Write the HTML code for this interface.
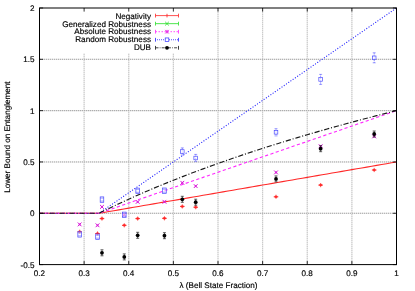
<!DOCTYPE html>
<html><head><meta charset="utf-8"><title>chart</title><style>html,body{margin:0;padding:0;background:#fff}text{stroke:#000;stroke-width:0.16px}</style></head><body>
<svg width="415" height="291" viewBox="0 0 415 291" style="display:block;font-family:'Liberation Sans',sans-serif;font-size:8.12px;fill:#000;text-rendering:geometricPrecision;will-change:transform">
<rect width="415" height="291" fill="#fff"/>
<line x1="84.12" y1="8.0" x2="84.12" y2="264.6" stroke="#e6e6e6" stroke-width="1.2"/>
<line x1="84.12" y1="8.0" x2="84.12" y2="264.6" stroke="#c0c0c0" stroke-width="0.8" stroke-dasharray="1 1"/>
<line x1="128.75" y1="8.0" x2="128.75" y2="264.6" stroke="#e6e6e6" stroke-width="1.2"/>
<line x1="128.75" y1="8.0" x2="128.75" y2="264.6" stroke="#c0c0c0" stroke-width="0.8" stroke-dasharray="1 1"/>
<line x1="173.37" y1="8.0" x2="173.37" y2="264.6" stroke="#e6e6e6" stroke-width="1.2"/>
<line x1="173.37" y1="8.0" x2="173.37" y2="264.6" stroke="#c0c0c0" stroke-width="0.8" stroke-dasharray="1 1"/>
<line x1="218.00" y1="8.0" x2="218.00" y2="264.6" stroke="#e6e6e6" stroke-width="1.2"/>
<line x1="218.00" y1="8.0" x2="218.00" y2="264.6" stroke="#c0c0c0" stroke-width="0.8" stroke-dasharray="1 1"/>
<line x1="262.62" y1="8.0" x2="262.62" y2="264.6" stroke="#e6e6e6" stroke-width="1.2"/>
<line x1="262.62" y1="8.0" x2="262.62" y2="264.6" stroke="#c0c0c0" stroke-width="0.8" stroke-dasharray="1 1"/>
<line x1="307.25" y1="8.0" x2="307.25" y2="264.6" stroke="#e6e6e6" stroke-width="1.2"/>
<line x1="307.25" y1="8.0" x2="307.25" y2="264.6" stroke="#c0c0c0" stroke-width="0.8" stroke-dasharray="1 1"/>
<line x1="351.88" y1="8.0" x2="351.88" y2="264.6" stroke="#e6e6e6" stroke-width="1.2"/>
<line x1="351.88" y1="8.0" x2="351.88" y2="264.6" stroke="#c0c0c0" stroke-width="0.8" stroke-dasharray="1 1"/>
<line x1="40" y1="213.28" x2="396.5" y2="213.28" stroke="#dedede" stroke-width="1.1"/>
<line x1="40" y1="213.28" x2="396.5" y2="213.28" stroke="#989898" stroke-width="0.8" stroke-dasharray="1 1"/>
<line x1="40" y1="161.96" x2="396.5" y2="161.96" stroke="#dedede" stroke-width="1.1"/>
<line x1="40" y1="161.96" x2="396.5" y2="161.96" stroke="#989898" stroke-width="0.8" stroke-dasharray="1 1"/>
<line x1="40" y1="110.64" x2="396.5" y2="110.64" stroke="#dedede" stroke-width="1.1"/>
<line x1="40" y1="110.64" x2="396.5" y2="110.64" stroke="#989898" stroke-width="0.8" stroke-dasharray="1 1"/>
<line x1="40" y1="59.32" x2="396.5" y2="59.32" stroke="#dedede" stroke-width="1.1"/>
<line x1="40" y1="59.32" x2="396.5" y2="59.32" stroke="#989898" stroke-width="0.8" stroke-dasharray="1 1"/>
<rect x="58" y="8.5" width="126" height="44.7" fill="#fff"/>
<polyline points="39.5,213.28 99.00,213.28 103.96,212.42 108.92,211.57 113.87,210.71 118.83,209.86 123.79,209.00 128.75,208.15 133.71,207.29 138.67,206.44 143.62,205.58 148.58,204.73 153.54,203.87 158.50,203.02 163.46,202.16 168.42,201.31 173.37,200.45 178.33,199.59 183.29,198.74 188.25,197.88 193.21,197.03 198.17,196.17 203.12,195.32 208.08,194.46 213.04,193.61 218.00,192.75 222.96,191.90 227.92,191.04 232.87,190.19 237.83,189.33 242.79,188.48 247.75,187.62 252.71,186.76 257.67,185.91 262.62,185.05 267.58,184.20 272.54,183.34 277.50,182.49 282.46,181.63 287.42,180.78 292.38,179.92 297.33,179.07 302.29,178.21 307.25,177.36 312.21,176.50 317.17,175.65 322.13,174.79 327.08,173.93 332.04,173.08 337.00,172.22 341.96,171.37 346.92,170.51 351.88,169.66 356.83,168.80 361.79,167.95 366.75,167.09 371.71,166.24 376.67,165.38 381.63,164.53 386.58,163.67 391.54,162.82 396.50,161.96" fill="none" stroke="#ff2828" stroke-width="1.1"/>
<polyline points="39.5,213.28 99.00,213.28 103.96,209.86 108.92,206.44 113.87,203.02 118.83,199.59 123.79,196.17 128.75,192.75 133.71,189.33 138.67,185.91 143.62,182.49 148.58,179.07 153.54,175.65 158.50,172.22 163.46,168.80 168.42,165.38 173.37,161.96 178.33,158.54 183.29,155.12 188.25,151.70 193.21,148.27 198.17,144.85 203.12,141.43 208.08,138.01 213.04,134.59 218.00,131.17 222.96,127.75 227.92,124.33 232.87,120.90 237.83,117.48 242.79,114.06 247.75,110.64 252.71,107.22 257.67,103.80 262.62,100.38 267.58,96.95 272.54,93.53 277.50,90.11 282.46,86.69 287.42,83.27 292.38,79.85 297.33,76.43 302.29,73.01 307.25,69.58 312.21,66.16 317.17,62.74 322.13,59.32 327.08,55.90 332.04,52.48 337.00,49.06 341.96,45.63 346.92,42.21 351.88,38.79 356.83,35.37 361.79,31.95 366.75,28.53 371.71,25.11 376.67,21.69 381.63,18.26 386.58,14.84 391.54,11.42 396.50,8.00" fill="none" stroke="#2a2aff" stroke-width="1.25" stroke-linecap="round" stroke-dasharray="0.01 2.7"/>
<polyline points="39.5,213.28 99.00,213.28 103.96,211.57 108.92,209.86 113.87,208.15 118.83,206.44 123.79,204.73 128.75,203.02 133.71,201.31 138.67,199.59 143.62,197.88 148.58,196.17 153.54,194.46 158.50,192.75 163.46,191.04 168.42,189.33 173.37,187.62 178.33,185.91 183.29,184.20 188.25,182.49 193.21,180.78 198.17,179.07 203.12,177.36 208.08,175.65 213.04,173.93 218.00,172.22 222.96,170.51 227.92,168.80 232.87,167.09 237.83,165.38 242.79,163.67 247.75,161.96 252.71,160.25 257.67,158.54 262.62,156.83 267.58,155.12 272.54,153.41 277.50,151.70 282.46,149.99 287.42,148.27 292.38,146.56 297.33,144.85 302.29,143.14 307.25,141.43 312.21,139.72 317.17,138.01 322.13,136.30 327.08,134.59 332.04,132.88 337.00,131.17 341.96,129.46 346.92,127.75 351.88,126.04 356.83,124.33 361.79,122.61 366.75,120.90 371.71,119.19 376.67,117.48 381.63,115.77 386.58,114.06 391.54,112.35 396.50,110.64" fill="none" stroke="#ff28ff" stroke-width="1.1" stroke-dasharray="3.2 2.4"/>
<polyline points="39.5,213.28 99.00,213.28 103.96,210.83 108.92,208.42 113.87,206.06 118.83,203.72 123.79,201.43 128.75,199.17 133.71,196.94 138.67,194.75 143.62,192.58 148.58,190.45 153.54,188.35 158.50,186.28 163.46,184.24 168.42,182.22 173.37,180.24 178.33,178.28 183.29,176.34 188.25,174.43 193.21,172.54 198.17,170.68 203.12,168.84 208.08,167.02 213.04,165.23 218.00,163.46 222.96,161.70 227.92,159.97 232.87,158.26 237.83,156.57 242.79,154.89 247.75,153.24 252.71,151.60 257.67,149.98 262.62,148.38 267.58,146.80 272.54,145.23 277.50,143.68 282.46,142.15 287.42,140.63 292.38,139.13 297.33,137.64 302.29,136.16 307.25,134.71 312.21,133.26 317.17,131.83 322.13,130.41 327.08,129.01 332.04,127.62 337.00,126.24 341.96,124.88 346.92,123.52 351.88,122.18 356.83,120.86 361.79,119.54 366.75,118.24 371.71,116.94 376.67,115.66 381.63,114.39 386.58,113.13 391.54,111.88 396.50,110.64" fill="none" stroke="#181818" stroke-width="1.15" stroke-dasharray="5.2 1.9 1 1.9"/>
<g stroke="#ff2020"><line x1="77.36" y1="231.80" x2="81.96" y2="231.80" stroke-width="0.9"/><line x1="79.66" y1="229.70" x2="79.66" y2="233.90" stroke-width="0.7"/><ellipse cx="79.66" cy="231.80" rx="1.6" ry="1.25" fill="#ff2020" stroke="none" opacity="0.8"/></g>
<g stroke="#d818d8" stroke-width="1"><line x1="77.76" y1="222.50" x2="81.56" y2="226.30"/><line x1="77.76" y1="226.30" x2="81.56" y2="222.50"/><circle cx="79.66" cy="224.40" r="1.1" fill="#d818d8" stroke="none" opacity="0.7"/></g>
<g stroke="#4040ff" stroke-width="0.65" fill="none"><rect x="77.86" y="231.70" width="3.6" height="5.4" fill="#fff" fill-opacity="0.5"/><line x1="77.86" y1="232.90" x2="81.46" y2="232.90" stroke-width="0.5"/><line x1="77.86" y1="235.90" x2="81.46" y2="235.90" stroke-width="0.5"/></g>
<g stroke="#ff2020"><line x1="95.21" y1="233.50" x2="99.81" y2="233.50" stroke-width="0.9"/><line x1="97.51" y1="231.40" x2="97.51" y2="235.60" stroke-width="0.7"/><ellipse cx="97.51" cy="233.50" rx="1.6" ry="1.25" fill="#ff2020" stroke="none" opacity="0.8"/></g>
<g stroke="#d818d8" stroke-width="1"><line x1="95.61" y1="223.40" x2="99.41" y2="227.20"/><line x1="95.61" y1="227.20" x2="99.41" y2="223.40"/><circle cx="97.51" cy="225.30" r="1.1" fill="#d818d8" stroke="none" opacity="0.7"/></g>
<g stroke="#4040ff" stroke-width="0.65" fill="none"><rect x="95.71" y="234.00" width="3.6" height="5.4" fill="#fff" fill-opacity="0.5"/><line x1="95.71" y1="235.20" x2="99.31" y2="235.20" stroke-width="0.5"/><line x1="95.71" y1="238.20" x2="99.31" y2="238.20" stroke-width="0.5"/></g>
<g stroke="#ff2020"><line x1="99.67" y1="218.60" x2="104.27" y2="218.60" stroke-width="0.9"/><line x1="101.97" y1="216.50" x2="101.97" y2="220.70" stroke-width="0.7"/><ellipse cx="101.97" cy="218.60" rx="1.6" ry="1.25" fill="#ff2020" stroke="none" opacity="0.8"/></g>
<g stroke="#d818d8" stroke-width="1"><line x1="100.07" y1="205.00" x2="103.88" y2="208.80"/><line x1="100.07" y1="208.80" x2="103.88" y2="205.00"/><circle cx="101.97" cy="206.90" r="1.1" fill="#d818d8" stroke="none" opacity="0.7"/></g>
<g stroke="#4040ff" stroke-width="0.65" fill="none"><rect x="100.17" y="196.90" width="3.6" height="5.4" fill="#fff" fill-opacity="0.5"/><line x1="100.17" y1="198.10" x2="103.77" y2="198.10" stroke-width="0.5"/><line x1="100.17" y1="201.10" x2="103.77" y2="201.10" stroke-width="0.5"/></g>
<g stroke="#202020" stroke-width="0.7"><line x1="101.97" y1="249.80" x2="101.97" y2="255.80"/><line x1="100.47" y1="249.80" x2="103.47" y2="249.80"/><line x1="100.47" y1="255.80" x2="103.47" y2="255.80"/><circle cx="101.97" cy="252.80" r="1.9" fill="#000" stroke="none"/></g>
<g stroke="#ff2020"><line x1="121.99" y1="225.30" x2="126.59" y2="225.30" stroke-width="0.9"/><line x1="124.29" y1="223.20" x2="124.29" y2="227.40" stroke-width="0.7"/><ellipse cx="124.29" cy="225.30" rx="1.6" ry="1.25" fill="#ff2020" stroke="none" opacity="0.8"/></g>
<g stroke="#d818d8" stroke-width="1"><line x1="122.39" y1="212.90" x2="126.19" y2="216.70"/><line x1="122.39" y1="216.70" x2="126.19" y2="212.90"/><circle cx="124.29" cy="214.80" r="1.1" fill="#d818d8" stroke="none" opacity="0.7"/></g>
<g stroke="#4040ff" stroke-width="0.65" fill="none"><rect x="122.49" y="212.10" width="3.6" height="5.4" fill="#fff" fill-opacity="0.5"/><line x1="122.49" y1="213.30" x2="126.09" y2="213.30" stroke-width="0.5"/><line x1="122.49" y1="216.30" x2="126.09" y2="216.30" stroke-width="0.5"/></g>
<g stroke="#202020" stroke-width="0.7"><line x1="124.29" y1="253.90" x2="124.29" y2="259.90"/><line x1="122.79" y1="253.90" x2="125.79" y2="253.90"/><line x1="122.79" y1="259.90" x2="125.79" y2="259.90"/><circle cx="124.29" cy="256.90" r="1.9" fill="#000" stroke="none"/></g>
<g stroke="#ff2020"><line x1="135.37" y1="218.60" x2="139.97" y2="218.60" stroke-width="0.9"/><line x1="137.67" y1="216.50" x2="137.67" y2="220.70" stroke-width="0.7"/><ellipse cx="137.67" cy="218.60" rx="1.6" ry="1.25" fill="#ff2020" stroke="none" opacity="0.8"/></g>
<g stroke="#d818d8" stroke-width="1"><line x1="135.77" y1="200.00" x2="139.57" y2="203.80"/><line x1="135.77" y1="203.80" x2="139.57" y2="200.00"/><circle cx="137.67" cy="201.90" r="1.1" fill="#d818d8" stroke="none" opacity="0.7"/></g>
<g stroke="#4040ff" stroke-width="0.65" fill="none"><rect x="135.87" y="188.10" width="3.6" height="5.4" fill="#fff" fill-opacity="0.5"/><line x1="135.87" y1="189.30" x2="139.47" y2="189.30" stroke-width="0.5"/><line x1="135.87" y1="192.30" x2="139.47" y2="192.30" stroke-width="0.5"/></g>
<g stroke="#202020" stroke-width="0.7"><line x1="137.67" y1="232.30" x2="137.67" y2="238.30"/><line x1="136.17" y1="232.30" x2="139.17" y2="232.30"/><line x1="136.17" y1="238.30" x2="139.17" y2="238.30"/><circle cx="137.67" cy="235.30" r="1.9" fill="#000" stroke="none"/></g>
<g stroke="#ff2020"><line x1="162.15" y1="218.30" x2="166.75" y2="218.30" stroke-width="0.9"/><line x1="164.45" y1="216.20" x2="164.45" y2="220.40" stroke-width="0.7"/><ellipse cx="164.45" cy="218.30" rx="1.6" ry="1.25" fill="#ff2020" stroke="none" opacity="0.8"/></g>
<g stroke="#d818d8" stroke-width="1"><line x1="162.55" y1="199.90" x2="166.35" y2="203.70"/><line x1="162.55" y1="203.70" x2="166.35" y2="199.90"/><circle cx="164.45" cy="201.80" r="1.1" fill="#d818d8" stroke="none" opacity="0.7"/></g>
<g stroke="#4040ff" stroke-width="0.65" fill="none"><rect x="162.65" y="188.00" width="3.6" height="5.4" fill="#fff" fill-opacity="0.5"/><line x1="162.65" y1="189.20" x2="166.25" y2="189.20" stroke-width="0.5"/><line x1="162.65" y1="192.20" x2="166.25" y2="192.20" stroke-width="0.5"/></g>
<g stroke="#202020" stroke-width="0.7"><line x1="164.45" y1="232.70" x2="164.45" y2="238.70"/><line x1="162.95" y1="232.70" x2="165.95" y2="232.70"/><line x1="162.95" y1="238.70" x2="165.95" y2="238.70"/><circle cx="164.45" cy="235.70" r="1.9" fill="#000" stroke="none"/></g>
<g stroke="#ff2020"><line x1="180.00" y1="206.40" x2="184.60" y2="206.40" stroke-width="0.9"/><line x1="182.30" y1="204.30" x2="182.30" y2="208.50" stroke-width="0.7"/><ellipse cx="182.30" cy="206.40" rx="1.6" ry="1.25" fill="#ff2020" stroke="none" opacity="0.8"/></g>
<g stroke="#d818d8" stroke-width="1"><line x1="180.40" y1="180.90" x2="184.20" y2="184.70"/><line x1="180.40" y1="184.70" x2="184.20" y2="180.90"/><circle cx="182.30" cy="182.80" r="1.1" fill="#d818d8" stroke="none" opacity="0.7"/></g>
<g stroke="#4040ff" stroke-width="0.65" fill="none"><line x1="182.30" y1="147.90" x2="182.30" y2="155.10" stroke-dasharray="1 0.8"/><line x1="180.80" y1="147.90" x2="183.80" y2="147.90" stroke-width="0.5"/><line x1="180.80" y1="155.10" x2="183.80" y2="155.10" stroke-width="0.5"/><rect x="180.50" y="149.70" width="3.6" height="3.6" fill="#fff" fill-opacity="0.6"/></g>
<g stroke="#202020" stroke-width="0.7"><line x1="182.30" y1="196.30" x2="182.30" y2="202.30"/><line x1="180.80" y1="196.30" x2="183.80" y2="196.30"/><line x1="180.80" y1="202.30" x2="183.80" y2="202.30"/><circle cx="182.30" cy="199.30" r="1.9" fill="#000" stroke="none"/></g>
<g stroke="#ff2020"><line x1="193.39" y1="207.20" x2="197.99" y2="207.20" stroke-width="0.9"/><line x1="195.69" y1="205.10" x2="195.69" y2="209.30" stroke-width="0.7"/><ellipse cx="195.69" cy="207.20" rx="1.6" ry="1.25" fill="#ff2020" stroke="none" opacity="0.8"/></g>
<g stroke="#d818d8" stroke-width="1"><line x1="193.79" y1="184.20" x2="197.59" y2="188.00"/><line x1="193.79" y1="188.00" x2="197.59" y2="184.20"/><circle cx="195.69" cy="186.10" r="1.1" fill="#d818d8" stroke="none" opacity="0.7"/></g>
<g stroke="#4040ff" stroke-width="0.65" fill="none"><line x1="195.69" y1="154.40" x2="195.69" y2="161.60" stroke-dasharray="1 0.8"/><line x1="194.19" y1="154.40" x2="197.19" y2="154.40" stroke-width="0.5"/><line x1="194.19" y1="161.60" x2="197.19" y2="161.60" stroke-width="0.5"/><rect x="193.89" y="156.20" width="3.6" height="3.6" fill="#fff" fill-opacity="0.6"/></g>
<g stroke="#202020" stroke-width="0.7"><line x1="195.69" y1="199.20" x2="195.69" y2="205.20"/><line x1="194.19" y1="199.20" x2="197.19" y2="199.20"/><line x1="194.19" y1="205.20" x2="197.19" y2="205.20"/><circle cx="195.69" cy="202.20" r="1.9" fill="#000" stroke="none"/></g>
<g stroke="#ff2020"><line x1="273.71" y1="196.80" x2="278.31" y2="196.80" stroke-width="0.9"/><line x1="276.01" y1="194.70" x2="276.01" y2="198.90" stroke-width="0.7"/><ellipse cx="276.01" cy="196.80" rx="1.6" ry="1.25" fill="#ff2020" stroke="none" opacity="0.8"/></g>
<g stroke="#d818d8" stroke-width="1"><line x1="274.11" y1="170.50" x2="277.91" y2="174.30"/><line x1="274.11" y1="174.30" x2="277.91" y2="170.50"/><circle cx="276.01" cy="172.40" r="1.1" fill="#d818d8" stroke="none" opacity="0.7"/></g>
<g stroke="#4040ff" stroke-width="0.65" fill="none"><line x1="276.01" y1="128.70" x2="276.01" y2="135.90" stroke-dasharray="1 0.8"/><line x1="274.51" y1="128.70" x2="277.51" y2="128.70" stroke-width="0.5"/><line x1="274.51" y1="135.90" x2="277.51" y2="135.90" stroke-width="0.5"/><rect x="274.21" y="130.50" width="3.6" height="3.6" fill="#fff" fill-opacity="0.6"/></g>
<g stroke="#202020" stroke-width="0.7"><line x1="276.01" y1="175.90" x2="276.01" y2="181.90"/><line x1="274.51" y1="175.90" x2="277.51" y2="175.90"/><line x1="274.51" y1="181.90" x2="277.51" y2="181.90"/><circle cx="276.01" cy="178.90" r="1.9" fill="#000" stroke="none"/></g>
<g stroke="#ff2020"><line x1="318.34" y1="185.10" x2="322.94" y2="185.10" stroke-width="0.9"/><line x1="320.64" y1="183.00" x2="320.64" y2="187.20" stroke-width="0.7"/><ellipse cx="320.64" cy="185.10" rx="1.6" ry="1.25" fill="#ff2020" stroke="none" opacity="0.8"/></g>
<g stroke="#d818d8" stroke-width="1"><line x1="318.74" y1="144.30" x2="322.54" y2="148.10"/><line x1="318.74" y1="148.10" x2="322.54" y2="144.30"/><circle cx="320.64" cy="146.20" r="1.1" fill="#d818d8" stroke="none" opacity="0.7"/></g>
<g stroke="#4040ff" stroke-width="0.65" fill="none"><line x1="320.64" y1="74.40" x2="320.64" y2="84.40" stroke-dasharray="1 0.8"/><line x1="319.14" y1="74.40" x2="322.14" y2="74.40" stroke-width="0.5"/><line x1="319.14" y1="84.40" x2="322.14" y2="84.40" stroke-width="0.5"/><rect x="318.84" y="77.60" width="3.6" height="3.6" fill="#fff" fill-opacity="0.6"/></g>
<g stroke="#202020" stroke-width="0.7"><line x1="320.64" y1="145.70" x2="320.64" y2="151.70"/><line x1="319.14" y1="145.70" x2="322.14" y2="145.70"/><line x1="319.14" y1="151.70" x2="322.14" y2="151.70"/><circle cx="320.64" cy="148.70" r="1.9" fill="#000" stroke="none"/></g>
<g stroke="#ff2020"><line x1="371.89" y1="170.00" x2="376.49" y2="170.00" stroke-width="0.9"/><line x1="374.19" y1="167.90" x2="374.19" y2="172.10" stroke-width="0.7"/><ellipse cx="374.19" cy="170.00" rx="1.6" ry="1.25" fill="#ff2020" stroke="none" opacity="0.8"/></g>
<g stroke="#d818d8" stroke-width="1"><line x1="372.29" y1="134.50" x2="376.09" y2="138.30"/><line x1="372.29" y1="138.30" x2="376.09" y2="134.50"/><circle cx="374.19" cy="136.40" r="1.1" fill="#d818d8" stroke="none" opacity="0.7"/></g>
<g stroke="#4040ff" stroke-width="0.65" fill="none"><line x1="374.19" y1="52.80" x2="374.19" y2="62.80" stroke-dasharray="1 0.8"/><line x1="372.69" y1="52.80" x2="375.69" y2="52.80" stroke-width="0.5"/><line x1="372.69" y1="62.80" x2="375.69" y2="62.80" stroke-width="0.5"/><rect x="372.39" y="56.00" width="3.6" height="3.6" fill="#fff" fill-opacity="0.6"/></g>
<g stroke="#202020" stroke-width="0.7"><line x1="374.19" y1="131.00" x2="374.19" y2="137.00"/><line x1="372.69" y1="131.00" x2="375.69" y2="131.00"/><line x1="372.69" y1="137.00" x2="375.69" y2="137.00"/><circle cx="374.19" cy="134.00" r="1.9" fill="#000" stroke="none"/></g>
<rect x="39.5" y="8.0" width="357.0" height="256.6" fill="none" stroke="#000" stroke-width="1"/>
<line x1="39.50" y1="264.6" x2="39.50" y2="261.0" stroke="#000" stroke-width="0.8"/>
<line x1="39.50" y1="8.0" x2="39.50" y2="11.6" stroke="#000" stroke-width="0.8"/>
<text transform="matrix(1,0,0.001,1,39.50,276.40000000000003)" text-anchor="middle">0.2</text>
<line x1="84.12" y1="264.6" x2="84.12" y2="261.0" stroke="#000" stroke-width="0.8"/>
<line x1="84.12" y1="8.0" x2="84.12" y2="11.6" stroke="#000" stroke-width="0.8"/>
<text transform="matrix(1,0,0.001,1,84.12,276.40000000000003)" text-anchor="middle">0.3</text>
<line x1="128.75" y1="264.6" x2="128.75" y2="261.0" stroke="#000" stroke-width="0.8"/>
<line x1="128.75" y1="8.0" x2="128.75" y2="11.6" stroke="#000" stroke-width="0.8"/>
<text transform="matrix(1,0,0.001,1,128.75,276.40000000000003)" text-anchor="middle">0.4</text>
<line x1="173.37" y1="264.6" x2="173.37" y2="261.0" stroke="#000" stroke-width="0.8"/>
<line x1="173.37" y1="8.0" x2="173.37" y2="11.6" stroke="#000" stroke-width="0.8"/>
<text transform="matrix(1,0,0.001,1,173.37,276.40000000000003)" text-anchor="middle">0.5</text>
<line x1="218.00" y1="264.6" x2="218.00" y2="261.0" stroke="#000" stroke-width="0.8"/>
<line x1="218.00" y1="8.0" x2="218.00" y2="11.6" stroke="#000" stroke-width="0.8"/>
<text transform="matrix(1,0,0.001,1,218.00,276.40000000000003)" text-anchor="middle">0.6</text>
<line x1="262.62" y1="264.6" x2="262.62" y2="261.0" stroke="#000" stroke-width="0.8"/>
<line x1="262.62" y1="8.0" x2="262.62" y2="11.6" stroke="#000" stroke-width="0.8"/>
<text transform="matrix(1,0,0.001,1,262.62,276.40000000000003)" text-anchor="middle">0.7</text>
<line x1="307.25" y1="264.6" x2="307.25" y2="261.0" stroke="#000" stroke-width="0.8"/>
<line x1="307.25" y1="8.0" x2="307.25" y2="11.6" stroke="#000" stroke-width="0.8"/>
<text transform="matrix(1,0,0.001,1,307.25,276.40000000000003)" text-anchor="middle">0.8</text>
<line x1="351.88" y1="264.6" x2="351.88" y2="261.0" stroke="#000" stroke-width="0.8"/>
<line x1="351.88" y1="8.0" x2="351.88" y2="11.6" stroke="#000" stroke-width="0.8"/>
<text transform="matrix(1,0,0.001,1,351.88,276.40000000000003)" text-anchor="middle">0.9</text>
<line x1="396.50" y1="264.6" x2="396.50" y2="261.0" stroke="#000" stroke-width="0.8"/>
<line x1="396.50" y1="8.0" x2="396.50" y2="11.6" stroke="#000" stroke-width="0.8"/>
<text transform="matrix(1,0,0.001,1,396.50,276.40000000000003)" text-anchor="middle">1</text>
<line x1="39.5" y1="264.60" x2="43.1" y2="264.60" stroke="#000" stroke-width="0.8"/>
<line x1="396.5" y1="264.60" x2="392.9" y2="264.60" stroke="#000" stroke-width="0.8"/>
<text transform="matrix(1,0,0.001,1,34.5,267.50)" text-anchor="end">-0.5</text>
<line x1="39.5" y1="213.28" x2="43.1" y2="213.28" stroke="#000" stroke-width="0.8"/>
<line x1="396.5" y1="213.28" x2="392.9" y2="213.28" stroke="#000" stroke-width="0.8"/>
<text transform="matrix(1,0,0.001,1,34.5,216.18)" text-anchor="end">0</text>
<line x1="39.5" y1="161.96" x2="43.1" y2="161.96" stroke="#000" stroke-width="0.8"/>
<line x1="396.5" y1="161.96" x2="392.9" y2="161.96" stroke="#000" stroke-width="0.8"/>
<text transform="matrix(1,0,0.001,1,34.5,164.86)" text-anchor="end">0.5</text>
<line x1="39.5" y1="110.64" x2="43.1" y2="110.64" stroke="#000" stroke-width="0.8"/>
<line x1="396.5" y1="110.64" x2="392.9" y2="110.64" stroke="#000" stroke-width="0.8"/>
<text transform="matrix(1,0,0.001,1,34.5,113.54)" text-anchor="end">1</text>
<line x1="39.5" y1="59.32" x2="43.1" y2="59.32" stroke="#000" stroke-width="0.8"/>
<line x1="396.5" y1="59.32" x2="392.9" y2="59.32" stroke="#000" stroke-width="0.8"/>
<text transform="matrix(1,0,0.001,1,34.5,62.22)" text-anchor="end">1.5</text>
<line x1="39.5" y1="8.00" x2="43.1" y2="8.00" stroke="#000" stroke-width="0.8"/>
<line x1="396.5" y1="8.00" x2="392.9" y2="8.00" stroke="#000" stroke-width="0.8"/>
<text transform="matrix(1,0,0.001,1,34.5,10.90)" text-anchor="end">2</text>
<text transform="matrix(1,0,0.001,1,218.5,287.9)" text-anchor="middle">λ (Bell State Fraction)</text>
<text transform="translate(9.7,137.2) rotate(-90)" text-anchor="middle">Lower Bound on Entanglement</text>
<text transform="matrix(1,0,0.001,1,151,18.60)" text-anchor="end">Negativity</text>
<g stroke="#ff3030" stroke-width="0.85" fill="none"><line x1="155.5" y1="15.6" x2="178.5" y2="15.6"/><line x1="155.5" y1="13.70" x2="155.5" y2="17.50"/><line x1="178.5" y1="13.70" x2="178.5" y2="17.50"/></g>
<line x1="167" y1="13.799999999999999" x2="167" y2="17.4" stroke="#ff3030" stroke-width="0.9"/>
<text transform="matrix(1,0,0.001,1,151,26.53)" text-anchor="end">Generalized Robustness</text>
<g stroke="#30e030" stroke-width="0.85" fill="none"><line x1="155.5" y1="23.65" x2="178.5" y2="23.65"/><line x1="155.5" y1="21.75" x2="155.5" y2="25.55"/><line x1="178.5" y1="21.75" x2="178.5" y2="25.55"/></g>
<g stroke="#30e030" stroke-width="0.9"><line x1="165.2" y1="21.849999999999998" x2="168.8" y2="25.45"/><line x1="165.2" y1="25.45" x2="168.8" y2="21.849999999999998"/></g>
<text transform="matrix(1,0,0.001,1,151,34.46)" text-anchor="end">Absolute Robustness</text>
<g stroke="#ff30ff" stroke-width="0.85" fill="none"><line x1="155.5" y1="31.7" x2="178.5" y2="31.7" stroke-dasharray="1.5 1.5"/><line x1="155.5" y1="29.80" x2="155.5" y2="33.60"/><line x1="178.5" y1="29.80" x2="178.5" y2="33.60"/></g>
<g stroke="#e020e0" stroke-width="0.9"><line x1="165.2" y1="29.9" x2="168.8" y2="33.5"/><line x1="165.2" y1="33.5" x2="168.8" y2="29.9"/><line x1="167" y1="29.9" x2="167" y2="33.5"/></g>
<text transform="matrix(1,0,0.001,1,151,42.39)" text-anchor="end">Random Robustness</text>
<g stroke="#3030ff" stroke-width="0.85" fill="none"><line x1="155.5" y1="39.75" x2="178.5" y2="39.75" stroke-dasharray="1 1" stroke-dashoffset="0.5"/><line x1="155.5" y1="37.85" x2="155.5" y2="41.65"/><line x1="178.5" y1="37.85" x2="178.5" y2="41.65"/></g>
<rect x="165.2" y="37.95" width="3.6" height="3.6" fill="#fff" stroke="#3030ff" stroke-width="0.7"/>
<text transform="matrix(1,0,0.001,1,151,50.32)" text-anchor="end">DUB</text>
<g stroke="#202020" stroke-width="0.85" fill="none"><line x1="155.5" y1="47.8" x2="178.5" y2="47.8" stroke-dasharray="3 1.2 0.8 1.2"/><line x1="155.5" y1="45.90" x2="155.5" y2="49.70"/><line x1="178.5" y1="45.90" x2="178.5" y2="49.70"/></g>
<circle cx="167" cy="47.8" r="1.9" fill="#000"/>
</svg>
</body></html>
